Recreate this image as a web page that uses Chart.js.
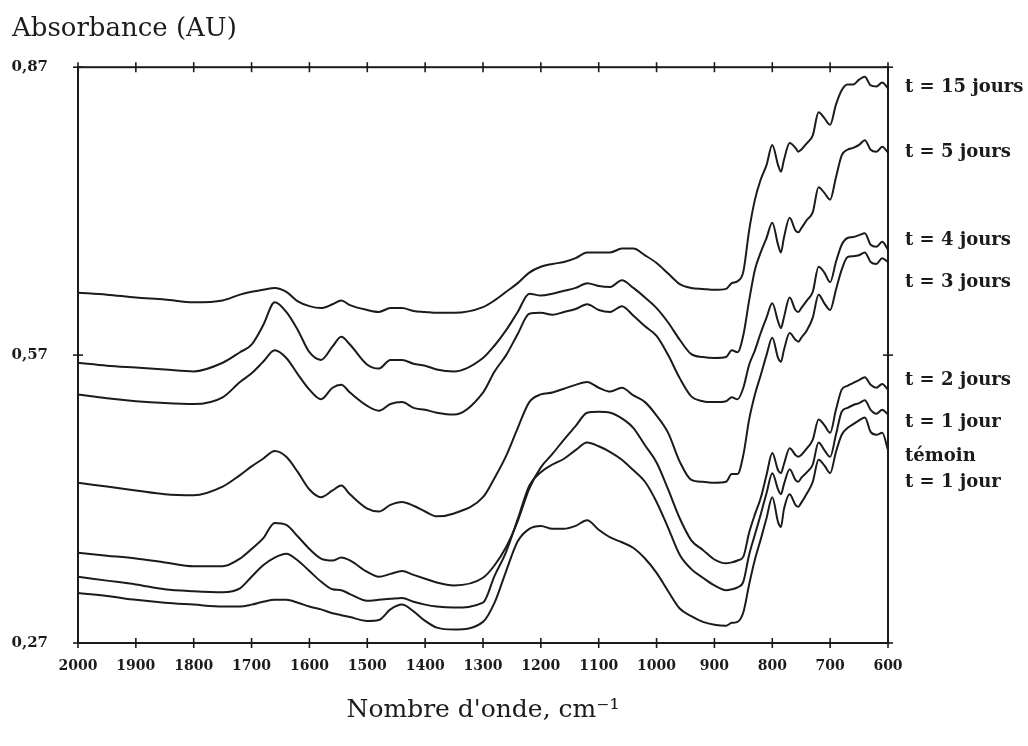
<!DOCTYPE html>
<html>
<head>
<meta charset="utf-8">
<script src="https://cdn.jsdelivr.net/npm/chart.js@4/dist/chart.umd.min.js"></script>
<style>
  html, body { margin: 0; padding: 0; background: #fff; }
  #wrap { width: 1028px; height: 746px; }
</style>
</head>
<body>
<div id="wrap"><canvas id="spectra" width="1028" height="746"></canvas></div>
<script>
// wavenumbers (cm-1), shared by every spectrum
const wavenumbers = [
  2000, 1950, 1900, 1850, 1800, 1750, 1720, 1700, 1680, 1660,
  1640, 1620, 1600, 1580, 1560, 1545, 1530, 1500, 1480, 1460,
  1440, 1420, 1400, 1380, 1350, 1300, 1280, 1260, 1240, 1220,
  1200, 1180, 1160, 1140, 1120, 1100, 1080, 1060, 1040, 1020,
  1000, 980, 960, 940, 920, 900, 880, 870, 860, 850,
  840, 830, 820, 810, 800, 790, 785, 780, 770, 760,
  755, 750, 740, 730, 720, 710, 700, 690, 680, 670,
  660, 650, 640, 630, 620, 610, 600
];

// absorbance (AU)
const jour15 = [
  0.635, 0.633, 0.630, 0.628, 0.625, 0.627, 0.633, 0.636, 0.638, 0.640,
  0.636, 0.626, 0.621, 0.619, 0.623, 0.627, 0.622, 0.617, 0.615, 0.619,
  0.619, 0.616, 0.615, 0.614, 0.614, 0.620, 0.627, 0.636, 0.645, 0.656,
  0.662, 0.665, 0.667, 0.671, 0.677, 0.677, 0.677, 0.681, 0.681, 0.674,
  0.666, 0.655, 0.644, 0.640, 0.639, 0.638, 0.639, 0.645, 0.647, 0.657,
  0.700, 0.732, 0.753, 0.768, 0.789, 0.768, 0.761, 0.773, 0.791, 0.786,
  0.782, 0.784, 0.791, 0.799, 0.823, 0.817, 0.810, 0.831, 0.846, 0.852,
  0.852, 0.857, 0.860, 0.851, 0.850, 0.854, 0.848
];
const jour5 = [
  0.562, 0.559, 0.557, 0.555, 0.553, 0.562, 0.573, 0.581, 0.601, 0.625,
  0.615, 0.596, 0.573, 0.565, 0.579, 0.589, 0.581, 0.560, 0.556, 0.565,
  0.565, 0.561, 0.559, 0.555, 0.553, 0.567, 0.580, 0.596, 0.615, 0.634,
  0.632, 0.634, 0.637, 0.640, 0.645, 0.642, 0.641, 0.648, 0.640, 0.630,
  0.619, 0.604, 0.586, 0.571, 0.568, 0.567, 0.568, 0.575, 0.573, 0.591,
  0.627, 0.659, 0.677, 0.692, 0.708, 0.685, 0.677, 0.692, 0.713, 0.700,
  0.698, 0.702, 0.711, 0.719, 0.745, 0.739, 0.732, 0.755, 0.778, 0.784,
  0.786, 0.789, 0.794, 0.784, 0.782, 0.787, 0.781
];
const jour4 = [
  0.529, 0.525, 0.522, 0.520, 0.519, 0.526, 0.542, 0.551, 0.563, 0.575,
  0.567, 0.550, 0.534, 0.524, 0.536, 0.539, 0.531, 0.517, 0.512, 0.519,
  0.521, 0.515, 0.513, 0.510, 0.508, 0.531, 0.553, 0.570, 0.592, 0.613,
  0.614, 0.612, 0.615, 0.618, 0.623, 0.617, 0.615, 0.621, 0.611, 0.600,
  0.590, 0.570, 0.546, 0.527, 0.522, 0.521, 0.522, 0.526, 0.524, 0.536,
  0.560, 0.575, 0.593, 0.609, 0.624, 0.605, 0.598, 0.609, 0.630, 0.617,
  0.615, 0.619, 0.627, 0.636, 0.662, 0.656, 0.646, 0.667, 0.685, 0.692,
  0.693, 0.695, 0.697, 0.685, 0.683, 0.688, 0.680
];
const jour3 = [
  0.437, 0.433, 0.429, 0.425, 0.424, 0.433, 0.445, 0.454, 0.462, 0.470,
  0.464, 0.448, 0.430, 0.422, 0.429, 0.434, 0.425, 0.410, 0.407, 0.414,
  0.417, 0.413, 0.407, 0.402, 0.405, 0.422, 0.442, 0.465, 0.494, 0.521,
  0.529, 0.531, 0.535, 0.539, 0.542, 0.536, 0.532, 0.536, 0.528, 0.521,
  0.507, 0.489, 0.459, 0.440, 0.438, 0.437, 0.438, 0.446, 0.446, 0.466,
  0.503, 0.529, 0.549, 0.570, 0.588, 0.567, 0.563, 0.575, 0.593, 0.586,
  0.584, 0.588, 0.596, 0.609, 0.633, 0.624, 0.617, 0.638, 0.659, 0.672,
  0.673, 0.674, 0.677, 0.667, 0.665, 0.671, 0.667
];
const jour2 = [
  0.364, 0.361, 0.358, 0.354, 0.350, 0.350, 0.358, 0.368, 0.379, 0.395,
  0.393, 0.381, 0.368, 0.358, 0.356, 0.359, 0.356, 0.344, 0.339, 0.342,
  0.345, 0.341, 0.337, 0.333, 0.330, 0.338, 0.351, 0.370, 0.397, 0.431,
  0.453, 0.467, 0.482, 0.496, 0.510, 0.511, 0.510, 0.504, 0.494, 0.476,
  0.458, 0.430, 0.400, 0.377, 0.367, 0.357, 0.353, 0.354, 0.356, 0.360,
  0.385, 0.404, 0.421, 0.445, 0.468, 0.450, 0.447, 0.456, 0.473, 0.466,
  0.464, 0.466, 0.473, 0.482, 0.503, 0.497, 0.489, 0.513, 0.534, 0.538,
  0.541, 0.544, 0.547, 0.539, 0.536, 0.540, 0.534
];
const jour1 = [
  0.339, 0.335, 0.331, 0.326, 0.324, 0.323, 0.327, 0.339, 0.351, 0.359,
  0.363, 0.356, 0.345, 0.334, 0.326, 0.325, 0.321, 0.314, 0.315, 0.316,
  0.317, 0.313, 0.310, 0.308, 0.307, 0.312, 0.340, 0.365, 0.399, 0.434,
  0.448, 0.456, 0.462, 0.471, 0.479, 0.475, 0.469, 0.461, 0.450, 0.438,
  0.417, 0.390, 0.362, 0.347, 0.338, 0.330, 0.325, 0.326, 0.328, 0.334,
  0.362, 0.383, 0.404, 0.426, 0.447, 0.430, 0.425, 0.435, 0.451, 0.440,
  0.438, 0.442, 0.448, 0.456, 0.479, 0.471, 0.464, 0.487, 0.511, 0.515,
  0.518, 0.520, 0.523, 0.513, 0.509, 0.513, 0.508
];
const temoin1 = [
  0.322, 0.319, 0.315, 0.312, 0.310, 0.308, 0.308, 0.310, 0.313, 0.315,
  0.315, 0.312, 0.308, 0.305, 0.301, 0.299, 0.297, 0.293, 0.294, 0.305,
  0.310, 0.303, 0.293, 0.286, 0.284, 0.292, 0.312, 0.345, 0.376, 0.389,
  0.392, 0.389, 0.389, 0.392, 0.398, 0.388, 0.380, 0.375, 0.369, 0.358,
  0.343, 0.324, 0.306, 0.298, 0.292, 0.289, 0.288, 0.291, 0.292, 0.302,
  0.331, 0.357, 0.378, 0.400, 0.422, 0.396, 0.391, 0.409, 0.425, 0.414,
  0.412, 0.416, 0.426, 0.438, 0.461, 0.455, 0.447, 0.469, 0.487, 0.494,
  0.498, 0.502, 0.505, 0.490, 0.487, 0.489, 0.471
];

const spectra = [jour15, jour5, jour4, jour3, jour2, jour1, temoin1];

// right-hand captions and the absorbance level each one sits at
const captions = ["t = 15 jours", "t = 5 jours", "t = 4 jours", "t = 3 jours",
                  "t = 2 jours", "t = 1 jour", "témoin", "t = 1 jour"];
const captionLevels = [0.849, 0.781, 0.690, 0.646, 0.544, 0.500, 0.464, 0.437];

const yTicks = [0.27, 0.57, 0.87];

const ink = "#1b1b1b";
const serif = "'DejaVu Serif', 'Liberation Serif', serif";

// white page, frame with crossing ticks, captions on the right
const framePlugin = {
  id: "frame",
  beforeDraw(chart) {
    const ctx = chart.ctx;
    ctx.save();
    ctx.fillStyle = "#fff";
    ctx.fillRect(0, 0, chart.width, chart.height);
    ctx.restore();
  },
  afterDraw(chart) {
    const { ctx, chartArea: a, scales: { x, y } } = chart;
    const tick = (x1, y1, x2, y2) => {
      ctx.beginPath(); ctx.moveTo(x1, y1); ctx.lineTo(x2, y2); ctx.stroke();
    };
    ctx.save();
    ctx.strokeStyle = ink;
    ctx.lineWidth = 2;
    ctx.strokeRect(a.left, a.top, a.right - a.left, a.bottom - a.top);
    ctx.lineWidth = 1.6;
    x.ticks.forEach(t => {
      const px = x.getPixelForValue(t.value);
      tick(px, a.bottom - 5, px, a.bottom + 5);
      tick(px, a.top - 5, px, a.top + 5);
    });
    y.ticks.forEach(t => {
      const py = y.getPixelForValue(t.value);
      tick(a.left - 5, py, a.left + 5, py);
      tick(a.right - 5, py, a.right + 5, py);
    });
    ctx.fillStyle = ink;
    ctx.font = "bold 18px " + serif;
    ctx.textAlign = "left";
    ctx.textBaseline = "middle";
    captions.forEach((txt, i) => {
      ctx.fillText(txt, a.right + 17, y.getPixelForValue(captionLevels[i]));
    });
    ctx.restore();
  }
};

new Chart(document.getElementById("spectra"), {
  type: "line",
  data: {
    labels: wavenumbers,
    datasets: spectra.map((s, i) => ({
      label: captions[i],
      data: wavenumbers.map((w, k) => ({ x: w, y: s[k] })),
      borderColor: ink,
      borderWidth: 2,
      pointRadius: 0,
      fill: false,
      cubicInterpolationMode: "monotone"
    }))
  },
  options: {
    responsive: false,
    animation: false,
    events: [],
    layout: { padding: { left: 12, right: 140, top: 0, bottom: 0 } },
    plugins: {
      legend: { display: false },
      tooltip: { enabled: false },
      title: {
        display: true,
        text: "Absorbance (AU)",
        align: "start",
        color: ink,
        font: { family: serif, size: 26, weight: "normal" },
        padding: { top: 14, bottom: 22 }
      }
    },
    scales: {
      x: {
        type: "linear",
        reverse: true,
        min: 600,
        max: 2000,
        grid: { display: false, drawTicks: false },
        border: { display: false },
        ticks: {
          stepSize: 100,
          autoSkip: false,
          maxRotation: 0,
          padding: 15,
          color: ink,
          font: { family: serif, size: 14, weight: "bold" },
          callback: (v) => String(v)
        },
        title: {
          display: true,
          text: "Nombre d'onde, cm⁻¹",
          color: ink,
          font: { family: serif, size: 25, weight: "normal" },
          padding: { top: 0, bottom: 21 }
        },
        afterFit: (scale) => { scale.height = 103; }
      },
      y: {
        min: 0.27,
        max: 0.87,
        grid: { display: false, drawTicks: false },
        border: { display: false },
        afterBuildTicks: (scale) => { scale.ticks = yTicks.map(v => ({ value: v })); },
        ticks: {
          padding: 30,
          color: ink,
          font: { family: serif, size: 15, weight: "bold" },
          callback: (v) => v.toFixed(2).replace(".", ",")
        },
        afterFit: (scale) => { scale.width = 66; }
      }
    }
  },
  plugins: [framePlugin]
});
</script>
</body>
</html>
